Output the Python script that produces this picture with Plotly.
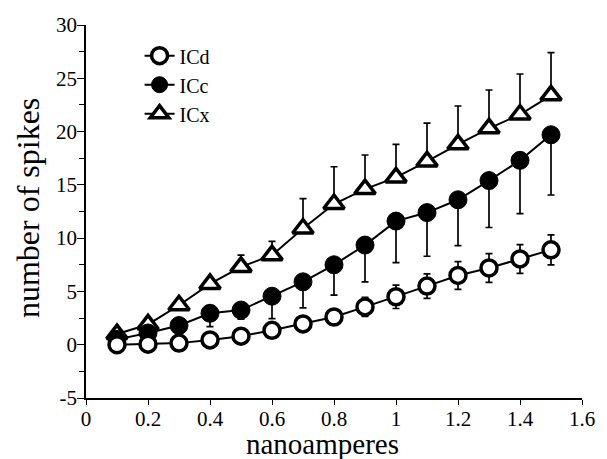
import plotly.graph_objects as go

current_nA = [0.1, 0.2, 0.3, 0.4, 0.5, 0.6, 0.7, 0.8, 0.9, 1.0, 1.1, 1.2, 1.3, 1.4, 1.5]

icd_mean = [0.0, 0.05, 0.15, 0.45, 0.8, 1.35, 1.95, 2.6, 3.55, 4.5, 5.5, 6.5, 7.2, 8.05, 8.9]
icd_err = [0.1, 0.1, 0.15, 0.2, 0.25, 0.3, 0.4, 0.6, 0.9, 1.1, 1.15, 1.3, 1.35, 1.35, 1.4]

icc_mean = [0.5, 1.1, 1.8, 2.95, 3.25, 4.55, 5.9, 7.5, 9.35, 11.6, 12.4, 13.6, 15.4, 17.3, 19.7]
icc_err_minus = [0.2, 0.2, 0.3, 1.25, 0.85, 2.1, 2.45, 2.85, 3.45, 3.9, 4.1, 4.3, 4.4, 5.0, 5.65]

icx_mean = [1.0, 1.9, 3.7, 5.7, 7.3, 8.4, 10.9, 13.2, 14.6, 15.7, 17.2, 18.8, 20.3, 21.6, 23.4]
icx_err_plus = [0.3, 0.3, 0.4, 0.5, 1.1, 1.3, 2.8, 3.5, 3.2, 3.1, 3.6, 3.6, 3.6, 3.8, 4.0]

zeros = [0] * len(current_nA)

series_names = ["ICd", "ICc", "ICx"]
x_ticks = [0, 0.2, 0.4, 0.6, 0.8, 1.0, 1.2, 1.4, 1.6]
x_tick_labels = ["0", "0.2", "0.4", "0.6", "0.8", "1", "1.2", "1.4", "1.6"]
y_ticks = [-5, 0, 5, 10, 15, 20, 25, 30]
y_tick_labels = ["-5", "0", "5", "10", "15", "20", "25", "30"]
x_title = "nanoamperes"
y_title = "number of spikes"

FONT = "Liberation Serif"

fig = go.Figure()

fig.add_trace(go.Scatter(
    x=current_nA, y=icx_mean, name=series_names[2], mode="lines+markers",
    line=dict(color="black", width=2),
    marker=dict(symbol="triangle-up", size=18, color="white",
                line=dict(color="black", width=3.5)),
    error_y=dict(type="data", symmetric=False, array=icx_err_plus, arrayminus=zeros,
                 color="black", thickness=1.7, width=3.5),
    legendrank=3,
))

fig.add_trace(go.Scatter(
    x=current_nA, y=icc_mean, name=series_names[1], mode="lines+markers",
    line=dict(color="black", width=2),
    marker=dict(symbol="circle", size=18, color="black",
                line=dict(color="black", width=1)),
    error_y=dict(type="data", symmetric=False, array=zeros, arrayminus=icc_err_minus,
                 color="black", thickness=1.7, width=3.5),
    legendrank=2,
))

fig.add_trace(go.Scatter(
    x=current_nA, y=icd_mean, name=series_names[0], mode="lines+markers",
    line=dict(color="black", width=2),
    marker=dict(symbol="circle", size=16, color="white",
                line=dict(color="black", width=3.5)),
    error_y=dict(type="data", symmetric=True, array=icd_err,
                 color="black", thickness=1.7, width=3.5),
    legendrank=1,
))

fig.add_annotation(text=x_title, xref="paper", yref="paper", x=0.476, y=-0.123,
                   xanchor="center", yanchor="middle", showarrow=False, borderpad=0,
                   font=dict(family=FONT, size=29, color="black"))
fig.add_annotation(text=y_title, xref="paper", yref="paper", x=-0.117, y=0.509,
                   xanchor="center", yanchor="middle", showarrow=False, textangle=-90,
                   font=dict(family=FONT, size=32, color="black"))

fig.update_layout(
    width=607, height=459,
    margin=dict(l=86, r=25, t=25, b=61, autoexpand=False),
    paper_bgcolor="white", plot_bgcolor="white",
    font=dict(family=FONT, color="black", size=18),
    showlegend=True,
    legend=dict(x=0.108, y=0.970, xanchor="left", yanchor="top",
                font=dict(family=FONT, size=20, color="black"),
                bgcolor="rgba(0,0,0,0)", tracegroupgap=0, itemwidth=30),
    xaxis=dict(
        range=[0, 1.6], tickmode="array",
        tickvals=x_ticks, ticktext=x_tick_labels,
        showgrid=False, zeroline=False, showline=True, linecolor="black", linewidth=1.5,
        ticks="outside", ticklen=5, tickwidth=1.3, tickcolor="black",
        ticklabelstandoff=-4,
        tickfont=dict(family=FONT, size=21, color="black"),
    ),
    yaxis=dict(
        range=[-5, 30], tickmode="array",
        tickvals=y_ticks, ticktext=y_tick_labels,
        showgrid=False, zeroline=False, showline=True, linecolor="black", linewidth=1.5,
        ticks="outside", ticklen=7, tickwidth=1.3, tickcolor="black",
        ticklabelstandoff=-4,
        tickfont=dict(family=FONT, size=21, color="black"),
        minor=dict(dtick=2.5, ticks="outside", ticklen=5, tickwidth=1, tickcolor="black", showgrid=False),
    ),
)

# remove the default 8px page margin so the 607x459 figure fills the window exactly
fig.write_html("out.html", config={"displayModeBar": False},
               post_script="document.body.style.margin='0px';")
